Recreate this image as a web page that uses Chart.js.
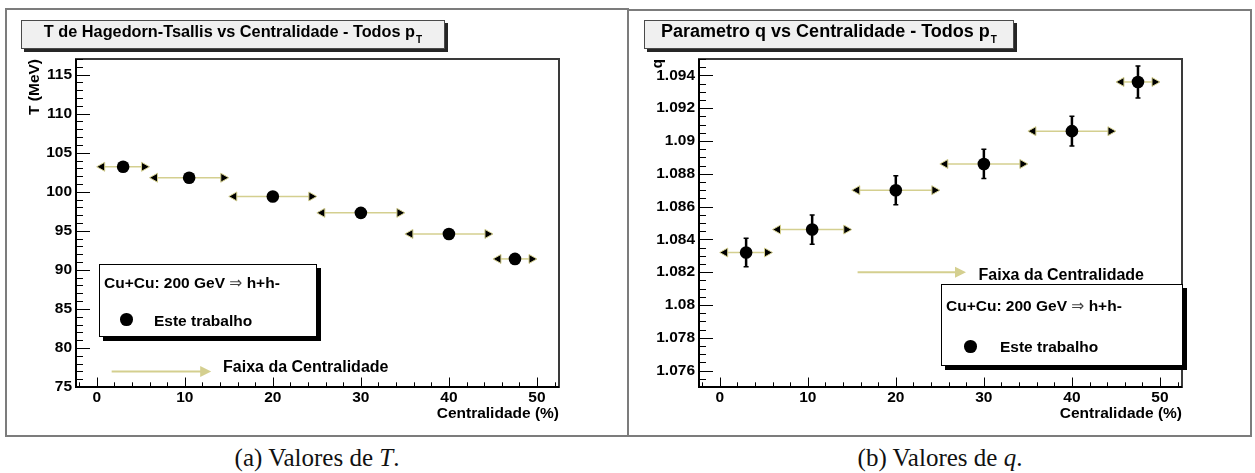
<!DOCTYPE html>
<html>
<head>
<meta charset="utf-8">
<script src="https://cdn.jsdelivr.net/npm/chart.js@4.4.1/dist/chart.umd.min.js"></script>
<style>
body { margin: 0; width: 1255px; height: 473px; background: #fff; position: relative; overflow: hidden;
       font-family: "Liberation Sans", Arial, sans-serif; }
.painel { position: absolute; border: 2px solid #7c7c7c; box-sizing: border-box; }
canvas { position: absolute; top: 9px; }
.titulo { position: absolute; top: 20px; height: 29px; box-sizing: border-box; background: #f0f0f0;
          border: 1px solid #4a4a4a; box-shadow: 3px 3px 0 #262626; text-align: center;
          font-weight: bold; line-height: 21px; white-space: nowrap; }
.titulo .sub { font-size: 10px; position: relative; top: 6px; margin-left: 1px; }
.legenda { position: absolute; background: #fff; border: 1px solid #000; box-sizing: border-box;
           box-shadow: 4px 4px 0 #000; font-weight: bold; font-size: 15.5px; }
.legenda span { position: absolute; line-height: 15.5px; white-space: nowrap; }
.legenda .seta { font-weight: normal; font-family: "DejaVu Sans", sans-serif; font-size: 15.5px; color: #444; }
.legenda .ponto { position: absolute; width: 12.6px; height: 12.6px; border-radius: 50%; background: #000; }
.rotulo { position: absolute; top: 445px; width: 600px; text-align: center; font-family: "Liberation Serif", "Times New Roman", serif;
          font-size: 25px; line-height: 25px; color: #111; }
</style>
</head>
<body>
<div class="painel" style="left:5px;top:8px;width:624px;height:429px"></div>
<div class="painel" style="left:627px;top:9px;width:625px;height:428px"></div>

<canvas id="graficoT" width="622" height="428" style="left:6px"></canvas>
<canvas id="graficoQ" width="622" height="428" style="left:629px"></canvas>

<div class="titulo" style="left:21px;width:424px;font-size:16.3px">T de Hagedorn-Tsallis vs Centralidade - Todos p<span class="sub">T</span></div>
<div class="titulo" style="left:644px;width:370px;font-size:18px">Parametro q vs Centralidade - Todos p<span class="sub">T</span></div>

<div class="legenda" style="left:99px;top:264px;width:218px;height:73px">
  <span style="left:4px;top:10px">Cu+Cu: 200 GeV <b class="seta">&rArr;</b> h+h-</span>
  <div class="ponto" style="left:20px;top:48px"></div>
  <span style="left:54px;top:48px">Este trabalho</span>
</div>
<div class="legenda" style="left:941px;top:284px;width:242px;height:82px">
  <span style="left:4px;top:13px">Cu+Cu: 200 GeV <b class="seta">&rArr;</b> h+h-</span>
  <div class="ponto" style="left:22px;top:55px"></div>
  <span style="left:58px;top:54px">Este trabalho</span>
</div>

<div class="rotulo" style="left:17px">(a) Valores de <i>T</i>.</div>
<div class="rotulo" style="left:640px">(b) Valores de <i>q</i>.</div>

<script>
// faixas de centralidade (%): centro e limites
const centralidade = [3, 10.5, 20, 30, 40, 47.5];
const faixaMin = [0, 6, 15, 25, 35, 45];
const faixaMax = [6, 15, 25, 35, 45, 50];

// temperatura de Hagedorn-Tsallis (MeV)
const temperatura = [103.2, 101.8, 99.4, 97.3, 94.6, 91.4];

// parametro q e suas incertezas
const parametroQ = [1.0832, 1.0846, 1.0870, 1.0886, 1.0906, 1.0936];
const erroQ = [0.00087, 0.00089, 0.00088, 0.00089, 0.00091, 0.00098];

// marcas principais dos eixos
const ticksX = [0, 10, 20, 30, 40, 50];
const ticksT = [75, 80, 85, 90, 95, 100, 105, 110, 115];
const ticksQ = [1.076, 1.078, 1.08, 1.082, 1.084, 1.086, 1.088, 1.09, 1.092, 1.094];

const corFaixa = '#d4cf8f';
const fonteEixo = {family: '"Liberation Sans", Arial, sans-serif', size: 15.5, weight: 'bold'};

Chart.defaults.font = fonteEixo;
Chart.defaults.color = '#000';

function seta(ctx, x, y, dir, comp, meia) {
	ctx.beginPath();
	ctx.moveTo(x, y);
	ctx.lineTo(x - dir * comp, y - meia);
	ctx.lineTo(x - dir * comp, y + meia);
	ctx.closePath();
}

// marcas dos eixos para dentro, moldura, barras com setas e a seta "Faixa da Centralidade"
const desenhoRoot = {
	id: 'desenhoRoot',
	beforeDatasetsDraw(chart, args, o) {
		const ctx = chart.ctx, sx = chart.scales.x, sy = chart.scales.y;
		ctx.save();
		chart.data.datasets[0].data.forEach((p, i) => {
			const py = sy.getPixelForValue(p.y);
			const xa = sx.getPixelForValue(faixaMin[i]);
			const xb = sx.getPixelForValue(faixaMax[i]);
			ctx.strokeStyle = corFaixa;
			ctx.lineWidth = 1.5;
			ctx.beginPath();
			ctx.moveTo(xa + 7, py);
			ctx.lineTo(xb - 7, py);
			ctx.stroke();
			ctx.fillStyle = '#000';
			ctx.lineWidth = 1;
			[[xa, -1], [xb, 1]].forEach(([px, d]) => {
				seta(ctx, px, py, d, 8, 4.5);
				ctx.fill();
				ctx.stroke();
			});
			if (o.erros) {
				const ya = sy.getPixelForValue(p.y - o.erros[i]);
				const yb = sy.getPixelForValue(p.y + o.erros[i]);
				const px = sx.getPixelForValue(p.x);
				ctx.strokeStyle = '#000';
				ctx.lineWidth = 2.5;
				ctx.beginPath();
				ctx.moveTo(px, ya);
				ctx.lineTo(px, yb);
				ctx.stroke();
				ctx.lineWidth = 1.5;
				ctx.beginPath();
				ctx.moveTo(px - 2.5, ya); ctx.lineTo(px + 2.5, ya);
				ctx.moveTo(px - 2.5, yb); ctx.lineTo(px + 2.5, yb);
				ctx.stroke();
			}
		});
		ctx.restore();
	},
	afterDraw(chart, args, o) {
		const ctx = chart.ctx, a = chart.chartArea, sx = chart.scales.x, sy = chart.scales.y;
		ctx.save();

		// seta da faixa de centralidade
		const f = o.faixa;
		const fx0 = sx.getPixelForValue(f.x0), fx1 = sx.getPixelForValue(f.x1), fy = sy.getPixelForValue(f.y);
		ctx.strokeStyle = corFaixa;
		ctx.fillStyle = corFaixa;
		ctx.lineWidth = 2;
		ctx.beginPath();
		ctx.moveTo(fx0, fy);
		ctx.lineTo(fx1 - 10, fy);
		ctx.stroke();
		seta(ctx, fx1, fy, 1, 11, 5.5);
		ctx.fill();
		ctx.fillStyle = '#000';
		ctx.font = 'bold 16px "Liberation Sans", Arial, sans-serif';
		ctx.textBaseline = 'alphabetic';
		ctx.textAlign = 'left';
		ctx.fillText('Faixa da Centralidade', sx.getPixelForValue(f.xTexto), sy.getPixelForValue(f.yTexto));

		// moldura
		ctx.strokeStyle = '#3a3a3a';
		ctx.lineWidth = 2;
		ctx.strokeRect(a.left, a.top, a.right - a.left, a.bottom - a.top);
		ctx.strokeStyle = '#000';
		ctx.beginPath();
		ctx.moveTo(a.left, a.top);
		ctx.lineTo(a.left, a.bottom);
		ctx.lineTo(a.right, a.bottom);
		ctx.stroke();

		// marcas principais e secundarias
		ctx.lineWidth = 1;
		ctx.beginPath();
		const principal = (s, v, passo) => s.ticks.some(t => Math.abs(t.value - v) < passo * 1e-3);
		for (let k = Math.ceil(sx.min / o.passoX); k * o.passoX <= sx.max + 1e-9; k++) {
			const v = k * o.passoX;
			const px = Math.round(sx.getPixelForValue(v)) + 0.5;
			const comp = principal(sx, v, o.passoX) ? 9.5 : 4.7;
			ctx.moveTo(px, a.bottom);
			ctx.lineTo(px, a.bottom - comp);
		}
		for (let k = Math.ceil(sy.min / o.passoY - 1e-6); k * o.passoY <= sy.max + 1e-9; k++) {
			const v = k * o.passoY;
			const py = Math.round(sy.getPixelForValue(v)) + 0.5;
			const comp = principal(sy, v, o.passoY) ? 14 : 7;
			ctx.moveTo(a.left, py);
			ctx.lineTo(a.left + comp, py);
		}
		ctx.stroke();
		ctx.restore();
	}
};

function eixoX() {
	return {
		type: 'linear', min: -2.35, max: 52.5,
		afterFit: s => { s.height = 50; },
		afterBuildTicks: s => { s.ticks = ticksX.map(v => ({value: v})); },
		grid: {display: false, drawTicks: false}, border: {display: false},
		ticks: {padding: 1, maxRotation: 0, autoSkip: false},
		title: {display: true, text: 'Centralidade (%)', align: 'end', padding: {top: 0, bottom: 14.4}}
	};
}

function grafico(id, valores, eixoY, extras) {
	return new Chart(document.getElementById(id), {
		type: 'scatter',
		data: {
			datasets: [{
				data: centralidade.map((c, i) => ({x: c, y: valores[i]})),
				pointRadius: 6.3,
				pointBackgroundColor: '#000',
				pointBorderWidth: 0
			}]
		},
		options: {
			responsive: false,
			animation: false,
			devicePixelRatio: 1,
			layout: {padding: {left: 0, top: 50, right: 69, bottom: 0}},
			plugins: {legend: {display: false}, tooltip: {enabled: false}, desenhoRoot: extras},
			scales: {x: eixoX(), y: eixoY}
		},
		plugins: [desenhoRoot]
	});
}

grafico('graficoT', temperatura, {
	type: 'linear', min: 75, max: 117,
	afterFit: s => { s.width = 70; },
	afterBuildTicks: s => { s.ticks = ticksT.map(v => ({value: v})); },
	grid: {display: false, drawTicks: false}, border: {display: false},
	ticks: {padding: 4},
	title: {display: true, text: 'T (MeV)', align: 'end', padding: {top: 19.7, bottom: 0}}
}, {
	passoX: 2, passoY: 1,
	faixa: {x0: 1.7, x1: 13.0, y: 77, xTexto: 14.35, yTexto: 76.95}
});

grafico('graficoQ', parametroQ, {
	type: 'linear', min: 1.075, max: 1.095,
	afterFit: s => { s.width = 70; },
	afterBuildTicks: s => { s.ticks = ticksQ.map(v => ({value: v})); },
	grid: {display: false, drawTicks: false}, border: {display: false},
	ticks: {padding: 4, callback: v => String(+v.toFixed(4))},
	title: {display: true, text: 'q', align: 'end', padding: {top: 19, bottom: 0}}
}, {
	passoX: 2, passoY: 0.0005, erros: erroQ,
	faixa: {x0: 15.66, x1: 27.97, y: 1.082, xTexto: 29.4, yTexto: 1.0815}
});
</script>
</body>
</html>
